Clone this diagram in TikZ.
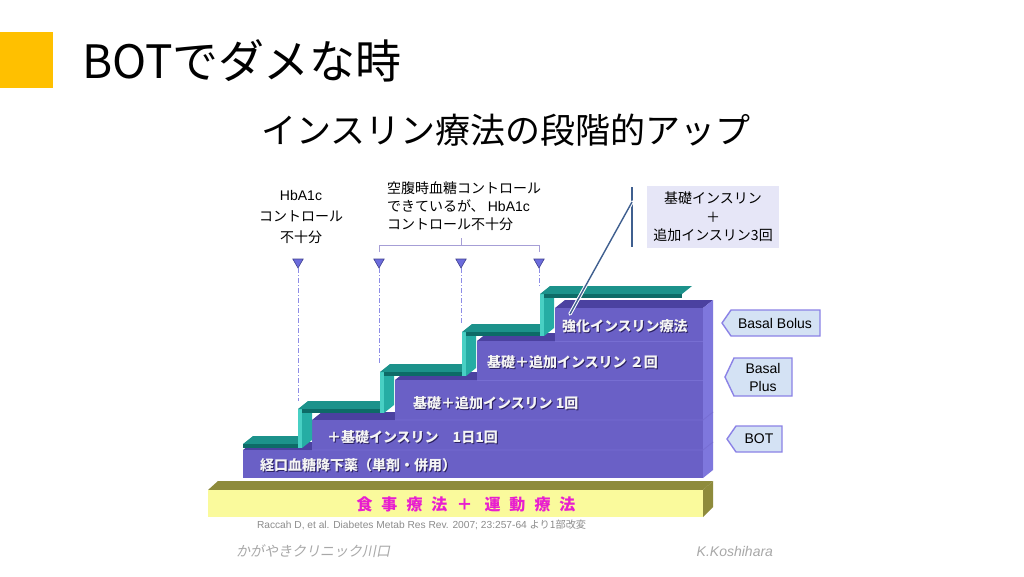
\documentclass[tikz,border=0pt]{standalone}
\usepackage{fontspec}
\usetikzlibrary{shapes.geometric}
\setmainfont{Liberation Sans}
\newfontfamily\jp{Noto Sans CJK JP}
\newfontfamily\jpit[FakeSlant=0.2]{Noto Sans CJK JP}
\newcommand{\myfs}[2]{\fontsize{#1}{#2}\selectfont}
\newcommand{\lat}[1]{{\rmfamily #1}}
\definecolor{orng}{HTML}{FFC000}
\definecolor{olv}{HTML}{8E8B3C}
\definecolor{ylw}{HTML}{FAFA9C}
\definecolor{mag}{HTML}{E81ECF}
\definecolor{pfront}{HTML}{6A60C6}
\definecolor{ptop}{HTML}{4B41A0}
\definecolor{pright}{HTML}{7E77DD}
\definecolor{psep}{HTML}{776ED2}
\definecolor{ttop}{HTML}{1C928B}
\definecolor{tfront}{HTML}{0D6B67}
\definecolor{rfront}{HTML}{48D0C4}
\definecolor{rside}{HTML}{25ADA4}
\definecolor{labfill}{HTML}{D4E2F4}
\definecolor{labdraw}{HTML}{8B82E6}
\definecolor{cbfill}{HTML}{E6E6F7}
\definecolor{cline}{HTML}{3F5F8F}
\definecolor{trifill}{HTML}{6C6CDC}
\definecolor{tridraw}{HTML}{404090}
\definecolor{ddash}{HTML}{8C8CE6}
\definecolor{brk}{HTML}{A69ED6}
\definecolor{cgray}{HTML}{8C8C8C}
\definecolor{fgray}{HTML}{A8A8A8}
\definecolor{shad}{HTML}{2A2060}
\definecolor{ltxt}{HTML}{F4F4F4}
\tikzset{
  lvl/.style={anchor=west, text=ltxt, font=\jp\bfseries\myfs{14}{16}},
  lvlsh/.style={anchor=west, text=shad, font=\jp\bfseries\myfs{14}{16}},
  tri/.style={regular polygon, regular polygon sides=3, shape border rotate=180, fill=trifill, draw=tridraw, line width=0.6pt, minimum size=12pt},
  dd/.style={draw=ddash, line width=1pt, dash pattern=on 5pt off 2pt on 1pt off 2pt},
  brkline/.style={draw=brk, line width=0.8pt},
  labshape/.style={fill=labfill, draw=labdraw, line width=1.4pt, line join=miter},
  labtxt/.style={font=\myfs{14}{18}, text=black, align=center},
  anntxt/.style={font=\jp\myfs{14}{21}, text=black, align=center},
}
\begin{document}
\begin{tikzpicture}[x=1pt,y=-1pt, every node/.style={inner sep=0pt, outer sep=0pt}]
\useasboundingbox (0,0) rectangle (1024,576);
\fill[white] (0,0) rectangle (1024,576);
% header
\fill[orng] (0,32) rectangle (53,88);
\node[anchor=west] (title) at (82,61) {\jp\myfs{46}{52}BOTでダメな時};
\node (sub) at (506,130) {\jp\myfs{35}{40}インスリン療法の段階的アップ};

% annotations
\node[anntxt] (ann1) at (301,217) {\lat{HbA1c}\\コントロール\\不十分};
\node[anntxt, align=left, anchor=west, font=\jp\myfs{14}{18}] (ann2) at (387,206) {空腹時血糖コントロール\\できているが、 \lat{HbA1c}\\コントロール不十分};
\coordinate (bl) at (379,252);
\coordinate (br) at (539,252);
\coordinate (bm) at (461,238);
\draw[brkline] (bl) -- (379,245) -- (539,245) -- (br);
\draw[brkline] (461,245) -- (bm);

% olive base
\fill[olv] (208,490) -- (703,490) -- (713,481) -- (218,481) -- cycle;
\fill[olv] (703,490) -- (713,481) -- (713,507) -- (703,517) -- cycle;
\fill[ylw] (208,490) rectangle (703,517);
\node (diet) at (466,504) {\jp\bfseries\myfs{16}{18}\color{mag}食\hspace{9pt}事\hspace{9pt}療\hspace{9pt}法\hspace{9pt}＋\hspace{12pt}運\hspace{9pt}動\hspace{9pt}療\hspace{9pt}法};

% purple block: top faces
\fill[ptop] (243,450) -- (703,450) -- (713,442) -- (253,442) -- cycle;
\fill[ptop] (312,420) -- (703,420) -- (713,412) -- (322,412) -- cycle;
\fill[ptop] (395,380) -- (703,380) -- (713,372) -- (405,372) -- cycle;
\fill[ptop] (477,341) -- (703,341) -- (713,333) -- (487,333) -- cycle;
\fill[ptop] (555,308) -- (703,308) -- (713,300) -- (565,300) -- cycle;
% front faces
\fill[pfront] (243,450) rectangle (703,478);
\fill[pfront] (312,420) rectangle (703,450);
\fill[pfront] (395,380) rectangle (703,420);
\fill[pfront] (477,341) rectangle (703,380);
\fill[pfront] (555,308) rectangle (703,341);
\fill[pright] (703,478) -- (713,470) -- (713,300) -- (703,308) -- cycle;
\draw[psep, line width=0.8pt] (312,450) -- (703,450) -- (713,442);
\draw[psep, line width=0.8pt] (395,420) -- (703,420) -- (713,412);
\draw[psep, line width=0.8pt] (477,380) -- (703,380);
\draw[psep, line width=0.8pt] (555,341) -- (703,341);

% triangles and dash-dot lines
\node[tri] (t1) at (298,262) {};
\node[tri] (t2) at (379,262) {};
\node[tri] (t3) at (461,262) {};
\node[tri] (t4) at (539,262) {};
\coordinate (d1) at (298,401);
\coordinate (d2) at (379,364);
\coordinate (d3) at (461,324);
\coordinate (d4) at (539,286);
\draw[dd] (t1.south) -- (d1);
\draw[dd] (t2.south) -- (d2);
\draw[dd] (t3.south) -- (d3);
\draw[dd] (t4.south) -- (d4);

% teal staircase ribbon
% tread 1
\fill[ttop] (243,444) -- (298,444) -- (308,436) -- (253,436) -- cycle;
\fill[tfront] (243,444) rectangle (298,448);
% riser 1
\fill[rside] (302,448) -- (312,440) -- (312,401) -- (302,409) -- cycle;
\fill[rfront] (298,409) rectangle (302,448);
% tread 2
\fill[ttop] (298,409) -- (380,409) -- (390,401) -- (308,401) -- cycle;
\fill[tfront] (302,409) rectangle (380,413);
% riser 2
\fill[rside] (384,413) -- (394,405) -- (394,364) -- (384,372) -- cycle;
\fill[rfront] (380,372) rectangle (384,413);
% tread 3
\fill[ttop] (380,372) -- (462,372) -- (472,364) -- (390,364) -- cycle;
\fill[tfront] (384,372) rectangle (462,376);
% riser 3
\fill[rside] (466,376) -- (476,368) -- (476,324) -- (466,332) -- cycle;
\fill[rfront] (462,332) rectangle (466,376);
% tread 4
\fill[ttop] (462,332) -- (540,332) -- (550,324) -- (472,324) -- cycle;
\fill[tfront] (466,332) rectangle (540,336);
% riser 4
\fill[rside] (544,336) -- (554,328) -- (554,286) -- (544,294) -- cycle;
\fill[rfront] (540,294) rectangle (544,336);
% tread 5
\fill[ttop] (540,294) -- (682,294) -- (692,286) -- (550,286) -- cycle;
\fill[tfront] (544,294) rectangle (682,298);

% level labels
\node[lvlsh] (s1) at (261,466) {経口血糖降下薬（単剤・併用）};
\node[lvl] (l1) at (260,465) {経口血糖降下薬（単剤・併用）};
\node[lvlsh] (s2) at (328,438) {＋基礎インスリン　1日1回};
\node[lvl] (l2) at (327,437) {＋基礎インスリン　1日1回};
\node[lvlsh] (s3) at (414,404) {基礎＋追加インスリン 1回};
\node[lvl] (l3) at (413,403) {基礎＋追加インスリン 1回};
\node[lvlsh] (s4) at (488,363) {基礎＋追加インスリン ２回};
\node[lvl] (l4) at (487,362) {基礎＋追加インスリン ２回};
\node[lvlsh] (s5) at (563,327) {強化インスリン療法};
\node[lvl] (l5) at (562,326) {強化インスリン療法};

% callout
\node[fill=cbfill, minimum width=132pt, minimum height=62pt, align=center, font=\jp\myfs{14}{18.5}] (cb) at (713,217) {基礎インスリン\\＋\\追加インスリン3回};
\coordinate (bartop) at (632,187);
\coordinate (barbot) at (632,247);
\coordinate (cstart) at (632,202);
\coordinate (cend) at (570,314);
\draw[cline, line width=1.5pt] (bartop) -- (barbot);
\draw[white, line width=3.5pt, line cap=round] (cstart) -- (cend);
\draw[cline, line width=1.4pt] (cstart) -- (cend);

% right labels
\draw[labshape] (722,323) -- (731,310) -- (820,310) -- (820,336) -- (731,336) -- cycle;
\node[labtxt] (bb) at (775,323) {Basal Bolus};
\draw[labshape] (725,377) -- (734,358) -- (792,358) -- (792,396) -- (734,396) -- cycle;
\node[labtxt] (bp) at (763,377) {Basal\\Plus};
\draw[labshape] (727,439) -- (736,426) -- (782,426) -- (782,452) -- (736,452) -- cycle;
\node[labtxt] (bot) at (759,439) {BOT};

% citation and footer
\node[anchor=west, text=cgray] (cite) at (257,525) {\myfs{10.2}{12}Raccah D, et al. Diabetes Metab Res Rev. 2007; 23:257-64 {\jp より1部改変}};
\node[anchor=west, text=fgray] (foot1) at (236,551) {\jpit\myfs{14}{16}かがやきクリニック川口};
\node[anchor=east, text=fgray] (foot2) at (773,551) {\itshape\myfs{14}{16}K.Koshihara};
\end{tikzpicture}
\end{document}
